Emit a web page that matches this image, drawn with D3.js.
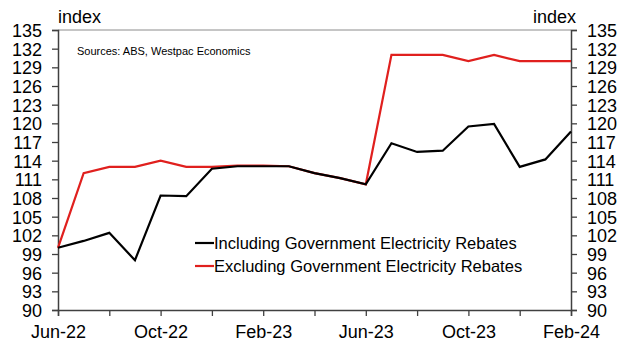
<!DOCTYPE html>
<html>
<head>
<meta charset="utf-8">
<script src="https://cdn.jsdelivr.net/npm/d3@7"></script>
<style>
  body { margin: 0; background: #fff; }
  text { font-family: "Liberation Sans", Arial, sans-serif; fill: #000; }
</style>
</head>
<body>
<div id="chart"></div>
<script>
// monthly points, Jun-22 .. Feb-24
var months = ["Jun-22", "Jul-22", "Aug-22", "Sep-22", "Oct-22", "Nov-22", "Dec-22",
    "Jan-23", "Feb-23", "Mar-23", "Apr-23", "May-23", "Jun-23", "Jul-23", "Aug-23",
    "Sep-23", "Oct-23", "Nov-23", "Dec-23", "Jan-24", "Feb-24"];
var including = [100.0, 101.1, 102.4, 98.0, 108.4, 108.3, 112.7, 113.1, 113.1, 113.1,
    112.0, 111.2, 110.2, 116.8, 115.4, 115.6, 119.5, 119.9, 113.0, 114.2, 118.7];
var excluding = [100.0, 112.0, 113.0, 113.0, 114.0, 113.0, 113.0, 113.2, 113.2, 113.1,
    112.0, 111.2, 110.2, 131.0, 131.0, 131.0, 130.0, 131.0, 130.0, 130.0, 130.0];
var yTicks = [90, 93, 96, 99, 102, 105, 108, 111, 114, 117, 120, 123, 126, 129, 132, 135];
var xLabels = ["Jun-22", "Oct-22", "Feb-23", "Jun-23", "Oct-23", "Feb-24"];
var seriesNames = ["Including Government Electricity Rebates", "Excluding Government Electricity Rebates"];
var seriesColors = ["#000000", "#e0201e"];

var width = 617, height = 340;
var margin = {left: 58, right: 46, top: 30, bottom: 30};

var svg = d3.select("#chart").append("svg")
    .attr("width", width)
    .attr("height", height);

var x = d3.scaleLinear()
    .domain([0, months.length - 1])
    .range([margin.left, width - margin.right]);

var y = d3.scaleLinear()
    .domain([90, 135])
    .range([height - margin.bottom, margin.top]);

// frame top line
svg.append("line")
    .attr("x1", x(0)).attr("x2", x(months.length - 1))
    .attr("y1", y(135)).attr("y2", y(135))
    .attr("stroke", "#8c8c8c").attr("stroke-width", 1);

var axisColor = "#404040";

var leftAxis = svg.append("g")
    .attr("transform", "translate(" + x(0) + ",0)")
    .call(d3.axisLeft(y).tickValues(yTicks).tickSize(6).tickPadding(10));

var rightAxis = svg.append("g")
    .attr("transform", "translate(" + x(months.length - 1) + ",0)")
    .call(d3.axisRight(y).tickValues(yTicks).tickSize(6).tickPadding(10));

// ticks every two months, labels every four
var monthIdx = d3.range(0, months.length, 2);
var bottomAxis = svg.append("g")
    .attr("transform", "translate(0," + y(90) + ")")
    .call(d3.axisBottom(x).tickValues(monthIdx).tickSize(6).tickPadding(9)
        .tickFormat(function(d) {
            return xLabels.indexOf(months[d]) >= 0 ? months[d] : "";
        }));

[leftAxis, rightAxis, bottomAxis].forEach(function(g) {
    g.select(".domain").attr("stroke", axisColor).attr("stroke-width", 1.5);
    g.selectAll(".tick line").attr("stroke", axisColor).attr("stroke-width", 1.3);
    g.selectAll("text")
        .attr("font-family", "Liberation Sans, Arial, sans-serif")
        .attr("font-size", 18)
        .attr("fill", "#000");
});
leftAxis.selectAll("text").attr("dy", "0.36em");
rightAxis.selectAll("text").attr("dy", "0.36em");

// lines
var line = d3.line()
    .x(function(d, i) { return x(i); })
    .y(function(d) { return y(d); });

[excluding, including].forEach(function(s, k) {
    svg.append("path")
        .datum(s)
        .attr("fill", "none")
        .attr("stroke", k == 0 ? seriesColors[1] : seriesColors[0])
        .attr("stroke-width", 2.2)
        .attr("stroke-linejoin", "miter")
        .attr("d", line);
});

// axis titles
svg.append("text")
    .attr("x", x(0))
    .attr("y", 23)
    .attr("font-size", 18)
    .text("index");

svg.append("text")
    .attr("x", x(months.length - 1) + 5)
    .attr("y", 23)
    .attr("text-anchor", "end")
    .attr("font-size", 18)
    .text("index");

svg.append("text")
    .attr("x", 77)
    .attr("y", 55)
    .attr("font-size", 11)
    .text("Sources: ABS, Westpac Economics");

// legend
var legend = svg.append("g").attr("transform", "translate(195,243)");
seriesNames.forEach(function(name, i) {
    var row = legend.append("g").attr("transform", "translate(0," + (i * 23) + ")");
    row.append("line")
        .attr("x1", 0).attr("x2", 19)
        .attr("y1", 0).attr("y2", 0)
        .attr("stroke", seriesColors[i])
        .attr("stroke-width", 2.2);
    row.append("text")
        .attr("x", 19)
        .attr("y", 0)
        .attr("dy", "0.35em")
        .attr("font-size", 16.5)
        .text(name);
});
</script>
</body>
</html>
